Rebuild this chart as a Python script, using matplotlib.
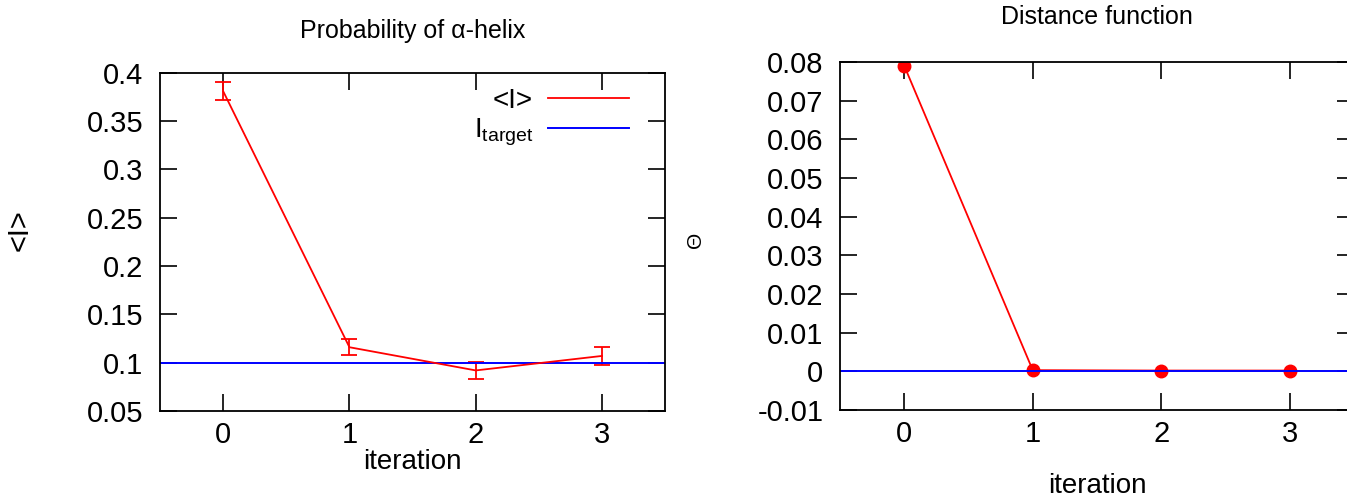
import matplotlib.pyplot as plt
from matplotlib.ticker import FormatStrFormatter

plt.rcParams['font.family'] = ['Liberation Sans', 'DejaVu Sans']
plt.rcParams['axes.unicode_minus'] = False
plt.rcParams['mathtext.fontset'] = 'custom'
plt.rcParams['mathtext.rm'] = 'Liberation Sans'
plt.rcParams['mathtext.it'] = 'Liberation Sans'

# probability of alpha-helix
iterations = [0, 1, 2, 3]
mean_I = [0.381, 0.116, 0.092, 0.107]
err_I = [0.0095, 0.0085, 0.009, 0.0095]
I_target = 0.1

# distance function
theta = [0.079, 0.0003, 0.0002, 0.0002]
theta_target = 0.0

fig = plt.figure(figsize=(13.47, 4.98), dpi=100)

ax1 = fig.add_axes([0.1188, 0.1747, 0.375, 0.679])
eb = ax1.errorbar(iterations, mean_I, yerr=err_I, color='red', lw=1.3,
                  capsize=6, capthick=1.3, elinewidth=1.3)
tl = ax1.axhline(I_target, color='blue', lw=1.4)
ax1.set_xlim(-0.5, 3.5)
ax1.set_ylim(0.05, 0.4)
ax1.set_xticks(iterations)
ax1.set_yticks([0.05, 0.1, 0.15, 0.2, 0.25, 0.3, 0.35, 0.4])
ax1.yaxis.set_major_formatter(FormatStrFormatter('%g'))
ax1.set_title('Probability of α-helix', fontsize=18, pad=25)
ax1.set_xlabel('iteration', fontsize=20, labelpad=0)
ax1.set_ylabel('<I>', fontsize=21)
ax1.yaxis.set_label_coords(-0.25, 0.535)
ax1.legend([eb[0], tl], ['<I>', r'I$_{\rm target}$'], loc='upper right',
           bbox_to_anchor=(1.0, 1.062),
           frameon=False, markerfirst=False, fontsize=20, handlelength=2.9,
           handletextpad=0.55, borderaxespad=1.0, labelspacing=0.1,
           borderpad=0.3)

ax2 = fig.add_axes([0.6236, 0.1767, 0.3816, 0.699])
ax2.plot(iterations, theta, color='red', lw=1.3, marker='o', ms=9)
ax2.axhline(theta_target, color='blue', lw=1.4)
ax2.set_xlim(-0.5, 3.5)
ax2.set_ylim(-0.01, 0.08)
ax2.set_xticks(iterations)
ax2.set_yticks([-0.01, 0, 0.01, 0.02, 0.03, 0.04, 0.05, 0.06, 0.07, 0.08])
ax2.yaxis.set_major_formatter(FormatStrFormatter('%g'))
ax2.set_title('Distance function', fontsize=18, pad=27)
ax2.set_xlabel('iteration', fontsize=20, labelpad=18)
ax2.set_ylabel('Θ', fontsize=15)
ax2.yaxis.set_label_coords(-0.262, 0.49)

for ax in (ax1, ax2):
    ax.tick_params(direction='in', length=12, width=1.2, top=True, right=True,
                   labelsize=21)
    ax.tick_params(axis='y', pad=12)
    ax.tick_params(axis='x', pad=7)
    for s in ax.spines.values():
        s.set_linewidth(1.3)

plt.savefig('out.png')
